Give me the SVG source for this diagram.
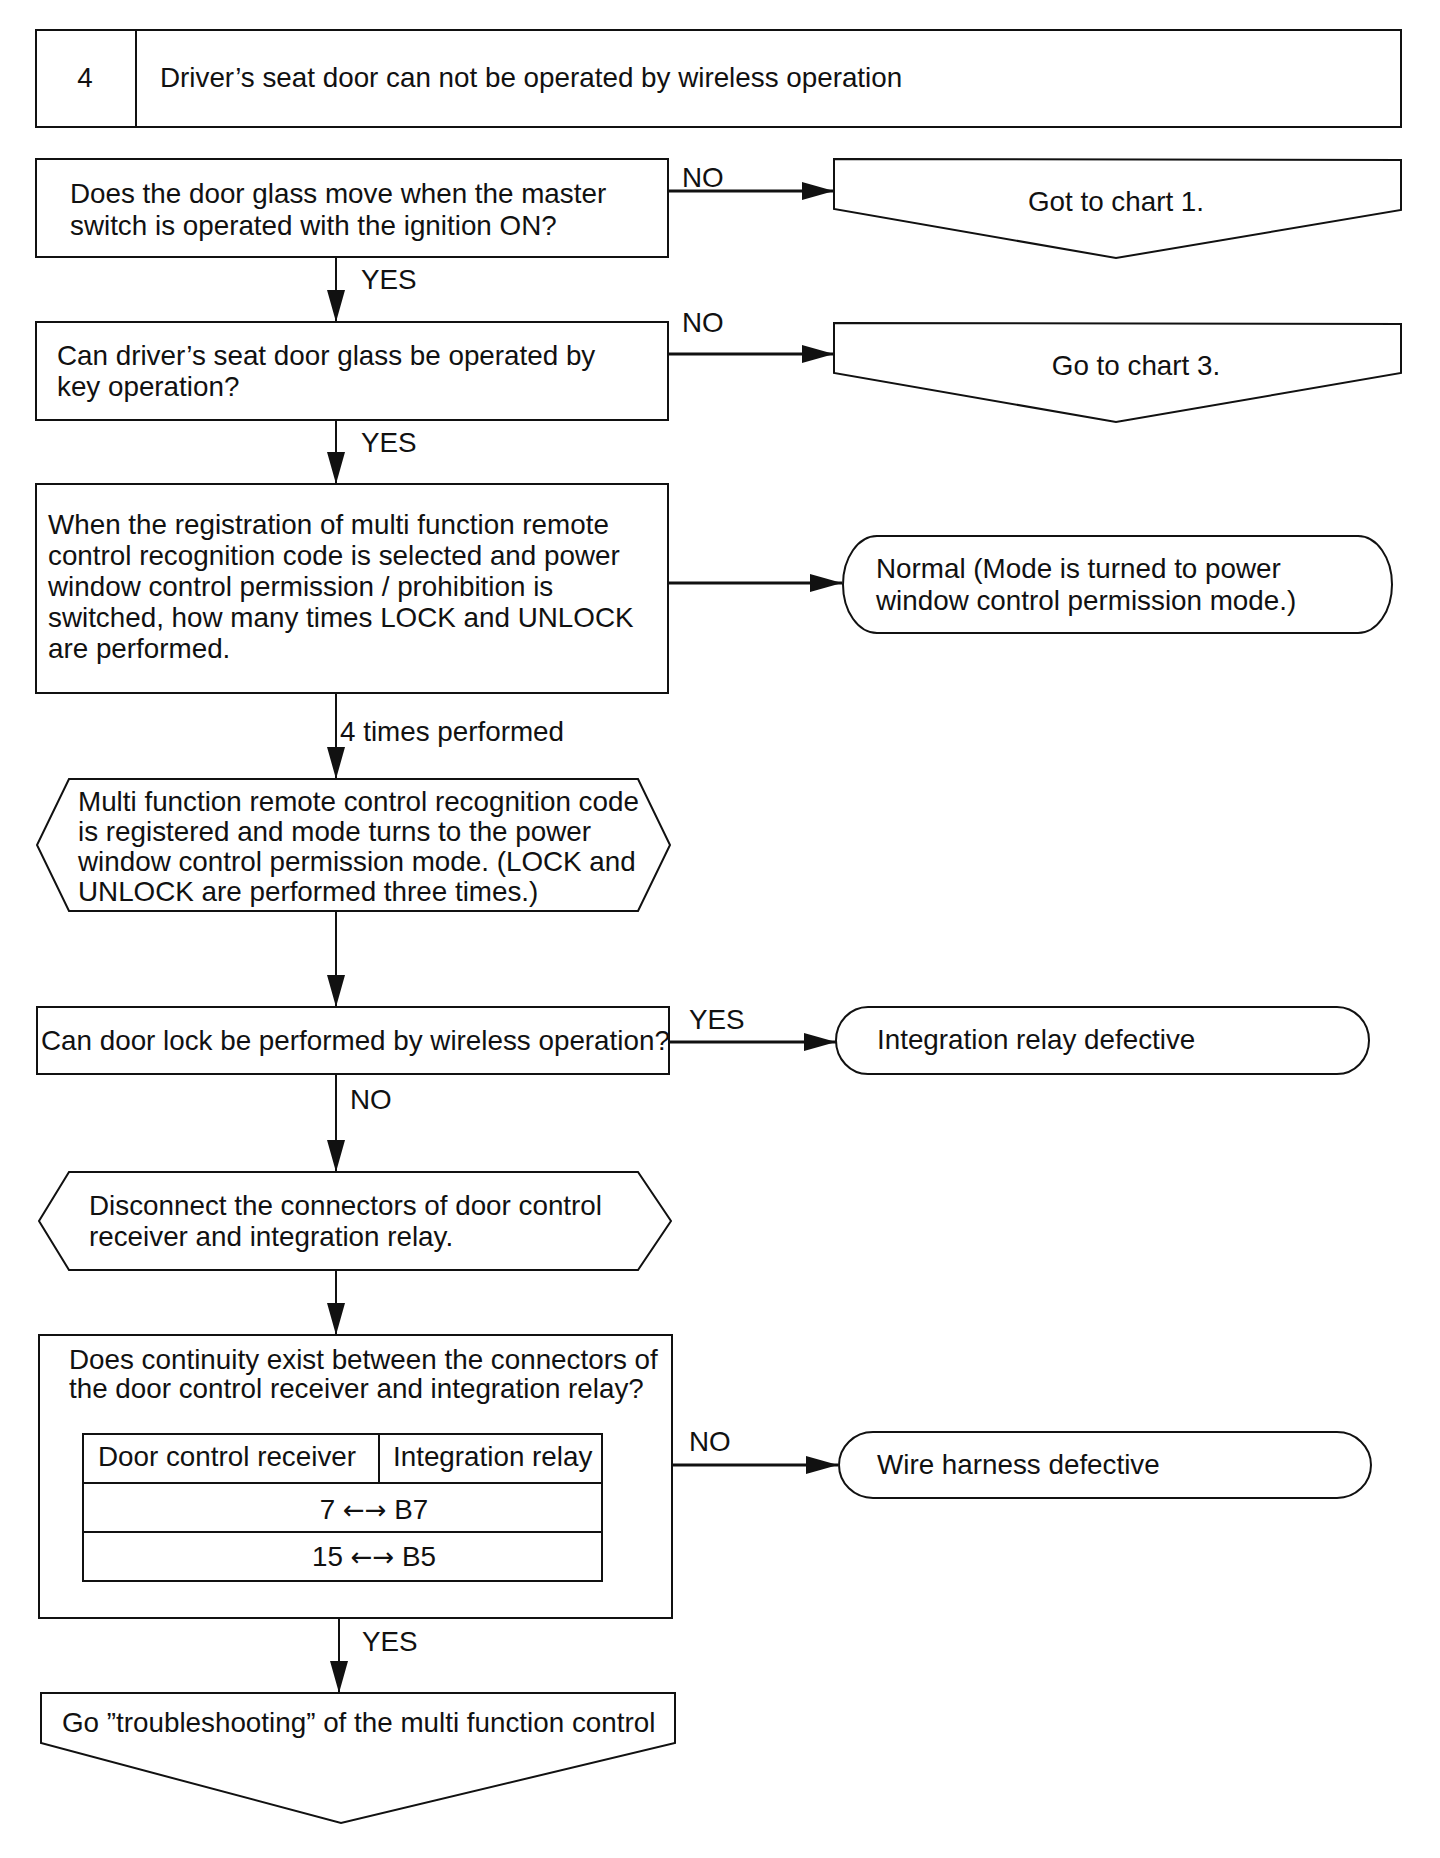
<svg xmlns="http://www.w3.org/2000/svg" width="1440" height="1858" viewBox="0 0 1440 1858">
<style>
  .t{font-family:"Liberation Sans",Arial,sans-serif;font-size:27.8px;fill:#111}
  .c{text-anchor:middle}
  .ar{font-family:"DejaVu Sans",sans-serif;font-size:26px}
  .s{fill:#fff;stroke:#111;stroke-width:2}
  .ln{stroke:#111;stroke-width:2;fill:none}
  .lh{stroke:#111;stroke-width:3;fill:none}
</style>
<defs>
  <marker id="ah" markerUnits="userSpaceOnUse" markerWidth="32" markerHeight="20" refX="32" refY="10" orient="auto">
    <path d="M0,1 L32,10 L0,19 Z" fill="#111"/>
  </marker>
</defs>
<rect width="1440" height="1858" fill="#fff"/>

<g id="header">
  <rect class="s" x="36" y="30" width="1365" height="97"/>
  <line class="ln" x1="136" y1="30" x2="136" y2="127"/>
  <text class="t c" x="85" y="87">4</text>
  <text class="t" x="160" y="87">Driver’s seat door can not be operated by wireless operation</text>
</g>

<g id="connectors">
  <line class="lh" x1="668" y1="191" x2="834" y2="191" marker-end="url(#ah)"/>
  <text class="t" x="682" y="187">NO</text>
  <line class="ln" x1="336" y1="257" x2="336" y2="322" marker-end="url(#ah)"/>
  <text class="t" x="361" y="289">YES</text>

  <line class="lh" x1="668" y1="354" x2="834" y2="354" marker-end="url(#ah)"/>
  <text class="t" x="682" y="332">NO</text>
  <line class="ln" x1="336" y1="420" x2="336" y2="484" marker-end="url(#ah)"/>
  <text class="t" x="361" y="452">YES</text>

  <line class="lh" x1="668" y1="583" x2="842" y2="583" marker-end="url(#ah)"/>
  <line class="ln" x1="336" y1="693" x2="336" y2="779" marker-end="url(#ah)"/>
  <text class="t" x="340" y="741">4 times performed</text>

  <line class="ln" x1="336" y1="911" x2="336" y2="1007" marker-end="url(#ah)"/>

  <line class="lh" x1="669" y1="1042" x2="836" y2="1042" marker-end="url(#ah)"/>
  <text class="t" x="689" y="1029">YES</text>
  <line class="ln" x1="336" y1="1074" x2="336" y2="1172" marker-end="url(#ah)"/>
  <text class="t" x="350" y="1109">NO</text>

  <line class="ln" x1="336" y1="1270" x2="336" y2="1335" marker-end="url(#ah)"/>

  <line class="lh" x1="672" y1="1465" x2="838" y2="1465" marker-end="url(#ah)"/>
  <text class="t" x="689" y="1451">NO</text>
  <line class="ln" x1="339" y1="1618" x2="339" y2="1693" marker-end="url(#ah)"/>
  <text class="t" x="362" y="1651">YES</text>
</g>

<g id="q1">
  <rect class="s" x="36" y="159" width="632" height="98"/>
  <text class="t" x="70" y="203">Does the door glass move when the master</text>
  <text class="t" x="70" y="235">switch is operated with the ignition ON?</text>
</g>

<g id="goto1">
  <path class="s" d="M834,159 L1401,160 L1401,210 L1116,258 L834,209 Z"/>
  <text class="t c" x="1116" y="211">Got to chart 1.</text>
</g>

<g id="q2">
  <rect class="s" x="36" y="322" width="632" height="98"/>
  <text class="t" x="57" y="365">Can driver’s seat door glass be operated by</text>
  <text class="t" x="57" y="396">key operation?</text>
</g>

<g id="goto3">
  <path class="s" d="M834,323 L1401,324 L1401,373 L1116,422 L834,373 Z"/>
  <text class="t c" x="1136" y="375">Go to chart 3.</text>
</g>

<g id="q3">
  <rect class="s" x="36" y="484" width="632" height="209"/>
  <text class="t" x="48" y="534">When the registration of multi function remote</text>
  <text class="t" x="48" y="565">control recognition code is selected and power</text>
  <text class="t" x="48" y="596">window control permission / prohibition is</text>
  <text class="t" x="48" y="627">switched, how many times LOCK and UNLOCK</text>
  <text class="t" x="48" y="658">are performed.</text>
</g>

<g id="normal">
  <path class="s" d="M877,536 H1358 A34,48.5 0 0 1 1358,633 H877 A34,48.5 0 0 1 877,536 Z"/>
  <text class="t" x="876" y="578">Normal (Mode is turned to power</text>
  <text class="t" x="876" y="610">window control permission mode.)</text>
</g>

<g id="registered">
  <path class="s" d="M69,779 L638,779 L670,845 L638,911 L69,911 L37,845 Z"/>
  <text class="t" x="78" y="811">Multi function remote control recognition code</text>
  <text class="t" x="78" y="841">is registered and mode turns to the power</text>
  <text class="t" x="78" y="871">window control permission mode. (LOCK and</text>
  <text class="t" x="78" y="901">UNLOCK are performed three times.)</text>
</g>

<g id="q4">
  <rect class="s" x="37" y="1007" width="632" height="67"/>
  <text class="t" x="41" y="1050">Can door lock be performed by wireless operation?</text>
</g>

<g id="relay">
  <path class="s" d="M868,1007 H1337 A32,33.5 0 0 1 1337,1074 H868 A32,33.5 0 0 1 868,1007 Z"/>
  <text class="t" x="877" y="1049">Integration relay defective</text>
</g>

<g id="disconnect">
  <path class="s" d="M69,1172 L638,1172 L671,1221 L638,1270 L69,1270 L39,1221 Z"/>
  <text class="t" x="89" y="1215">Disconnect the connectors of door control</text>
  <text class="t" x="89" y="1246">receiver and integration relay.</text>
</g>

<g id="q5">
  <rect class="s" x="39" y="1335" width="633" height="283"/>
  <text class="t" x="69" y="1369">Does continuity exist between the connectors of</text>
  <text class="t" x="69" y="1398">the door control receiver and integration relay?</text>
  <rect class="s" x="83" y="1434" width="519" height="147"/>
  <line class="ln" x1="83" y1="1483" x2="602" y2="1483"/>
  <line class="ln" x1="83" y1="1532" x2="602" y2="1532"/>
  <line class="ln" x1="379" y1="1434" x2="379" y2="1483"/>
  <text class="t" x="98" y="1466">Door control receiver</text>
  <text class="t" x="393" y="1466">Integration relay</text>
  <text class="t c" x="374" y="1519">7 <tspan class="ar">←→</tspan> B7</text>
  <text class="t c" x="374" y="1566">15 <tspan class="ar">←→</tspan> B5</text>
</g>

<g id="harness">
  <path class="s" d="M873,1432 H1337 A34,33 0 0 1 1337,1498 H873 A34,33 0 0 1 873,1432 Z"/>
  <text class="t" x="877" y="1474">Wire harness defective</text>
</g>

<g id="multi">
  <path class="s" d="M41,1693 L675,1693 L675,1743 L341,1823 L41,1743 Z"/>
  <text class="t" x="62" y="1732">Go ”troubleshooting” of the multi function control</text>
</g>
</svg>
